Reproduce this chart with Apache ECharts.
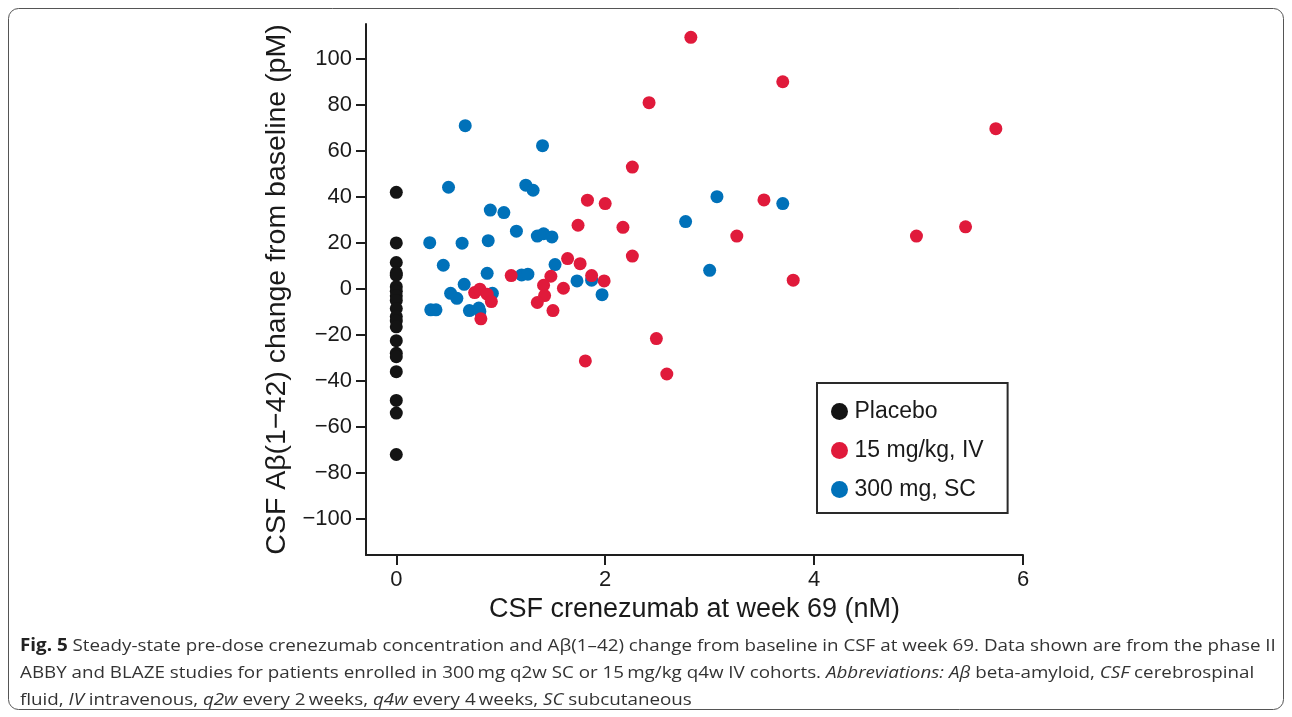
<!DOCTYPE html>
<html>
<head>
<meta charset="utf-8">
<script src="https://cdn.jsdelivr.net/npm/echarts@6/dist/echarts.min.js"></script>
<style>html,body{margin:0;padding:0;background:#fff;}#c{width:1292px;height:717px;}</style>
</head>
<body>
<div id="c"></div>
<script>
// ---- data ----
const seriesNames = ['Placebo', '15 mg/kg, IV', '300 mg, SC'];
const xTicks = [0, 2, 4, 6];
const yTicks = [-100, -80, -60, -40, -20, 0, 20, 40, 60, 80, 100];

const placeboX = [0,0,0,0,0,0,0,0,0,0,0,0,0,0,0,0,0,0,0,0];
const placeboY = [42, 20, 11.5, 7, 6, 1, -1, -3, -5, -8.5, -12, -14, -16.5, -22.5, -28, -29.5, -36, -48.5, -54, -72];

const ivX = [2.82, 3.70, 2.42, 5.74, 2.26, 1.83, 2.00, 3.52, 1.74, 2.17, 5.45, 3.26, 4.98, 2.26, 1.64, 1.76, 1.10, 1.48, 1.87, 1.99, 3.80, 1.41, 1.60, 0.75, 0.80, 0.87, 0.91, 1.42, 1.35, 1.50, 0.81, 1.81, 2.49, 2.59];
const ivY = [109.4, 90.1, 81, 69.7, 53, 38.6, 37.1, 38.7, 27.7, 26.8, 27, 23, 23, 14.3, 13.2, 11, 5.8, 5.5, 5.8, 3.5, 3.8, 1.6, 0.3, -1.6, -0.1, -2.3, -5.5, -2.9, -5.9, -9.4, -13, -31.3, -21.6, -37];

const scX = [0.66, 1.40, 0.50, 1.24, 1.31, 0.90, 1.03, 1.15, 1.35, 1.41, 1.49, 2.77, 3.07, 3.70, 3.00, 0.32, 0.63, 0.88, 0.45, 1.52, 0.87, 1.20, 1.26, 1.73, 1.87, 0.65, 1.97, 0.52, 0.58, 0.92, 0.33, 0.38, 0.70, 0.79, 0.80];
const scY = [71, 62.3, 44.2, 45.1, 42.9, 34.3, 33.2, 25.1, 23, 24, 22.6, 29.3, 40.1, 37.1, 8.1, 20.1, 19.9, 21, 10.3, 10.6, 6.8, 6.1, 6.4, 3.5, 3.8, 2.0, -2.5, -1.9, -4.1, -1.9, -9.1, -9.1, -9.4, -8.3, -9.8];

const captionLines = [
  '{b|Fig. 5} Steady-state pre-dose crenezumab concentration and A\u03b2(1\u201342) change from baseline in CSF at week 69. Data shown are from the phase II',
  'ABBY and BLAZE studies for patients enrolled in 300\u2009mg q2w SC or 15\u2009mg/kg q4w IV cohorts. {i|Abbreviations: A\u03b2} beta-amyloid, {i|CSF} cerebrospinal',
  'fluid, {i|IV} intravenous, {i|q2w} every 2\u2009weeks, {i|q4w} every 4\u2009weeks, {i|SC} subcutaneous'
];

const colors = ['#141414', '#e01a3b', '#0071b9'];

function zip(xs, ys) { return xs.map((x, i) => [x, ys[i]]); }
const minus = v => String(v).replace('-', '\u2212');

const chart = echarts.init(document.getElementById('c'), null, {renderer: 'canvas'});
const FONT = 'Liberation Sans';
const axisColor = '#1e1e1e';
const CAP = 17;

const captionGraphics = captionLines.map((t, i) => ({
  type: 'text', x: 20, y: 646 + i * 27, scaleX: 1.105, silent: true,
  style: {
    text: t, verticalAlign: 'middle',
    font: CAP + 'px "Open Sans"', fill: '#333',
    rich: {
      b: {fontWeight: 'bold', fontSize: CAP, fontFamily: 'Open Sans', fill: '#222'},
      i: {fontStyle: 'italic', fontSize: CAP, fontFamily: 'Open Sans', fill: '#333'}
    }
  }
}));

chart.setOption({
  animation: false,
  backgroundColor: '#ffffff',
  grid: {left: 366, right: 269, top: 24, bottom: 162, containLabel: false},
  xAxis: {
    type: 'value', min: -0.29, max: 6,
    splitLine: {show: false},
    axisLine: {onZero: false, lineStyle: {color: axisColor, width: 2}},
    axisTick: {show: true, length: 10, lineStyle: {color: axisColor, width: 2}, customValues: xTicks},
    axisLabel: {customValues: xTicks, margin: 14, fontSize: 22, fontFamily: FONT, color: '#1a1a1a'},
    name: 'CSF crenezumab at week 69 (nM)', nameLocation: 'middle', nameGap: 39,
    nameTextStyle: {fontSize: 27, fontFamily: FONT, color: '#1a1a1a'}
  },
  yAxis: {
    type: 'value', min: -115.7, max: 115.2,
    splitLine: {show: false},
    axisLine: {onZero: false, lineStyle: {color: axisColor, width: 2}},
    axisTick: {show: true, length: 10, lineStyle: {color: axisColor, width: 2}, customValues: yTicks},
    axisLabel: {customValues: yTicks, margin: 14, fontSize: 22, fontFamily: FONT, color: '#1a1a1a', formatter: v => minus(v)},
    name: 'CSF A\u03b2(1\u221242) change from baseline (pM)', nameLocation: 'middle', nameGap: 62, nameRotate: 90,
    nameTextStyle: {fontSize: 28.5, fontFamily: FONT, color: '#1a1a1a'}
  },
  legend: {
    data: seriesNames,
    orient: 'vertical', left: 817, top: 383,
    icon: 'circle', itemWidth: 20, itemHeight: 17, itemGap: 16,
    padding: [17, 24, 12, 14],
    borderColor: '#2a2a2a', borderWidth: 2,
    textStyle: {fontSize: 23, fontFamily: FONT, color: '#1a1a1a'}
  },
  series: [
    {name: seriesNames[0], type: 'scatter', data: zip(placeboX, placeboY), symbolSize: 13, itemStyle: {color: colors[0], opacity: 1}, z: 3},
    {name: seriesNames[2], type: 'scatter', data: zip(scX, scY), symbolSize: 13, itemStyle: {color: colors[2], opacity: 1}, z: 2},
    {name: seriesNames[1], type: 'scatter', data: zip(ivX, ivY), symbolSize: 13, itemStyle: {color: colors[1], opacity: 1}, z: 4}
  ],
  graphic: [
    {type: 'rect', shape: {x: 8.5, y: 8.5, width: 1275, height: 701, r: 10}, style: {fill: 'none', stroke: '#555', lineWidth: 1}, silent: true, z: -1}
  ].concat(captionGraphics)
});
</script>
</body>
</html>
